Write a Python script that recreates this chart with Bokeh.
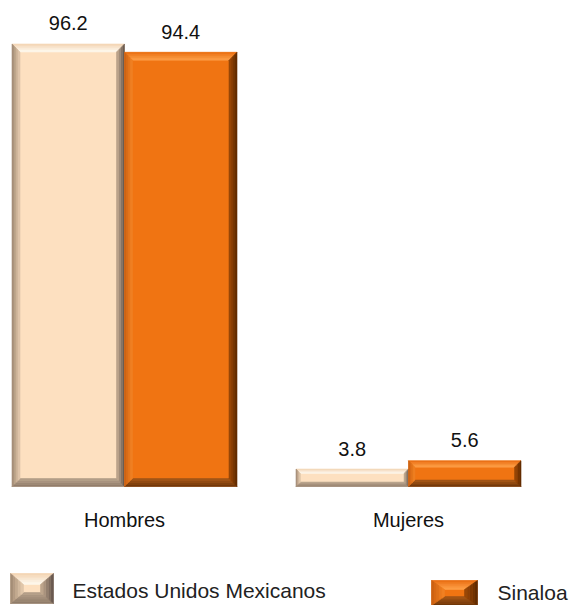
from bokeh.plotting import figure
from bokeh.models import Range1d
from bokeh.core.properties import value
from bokeh.embed import file_html
from bokeh.resources import INLINE

categories = ["Hombres", "Mujeres"]
series_names = ["Estados Unidos Mexicanos", "Sinaloa"]
eum_values = [96.2, 3.8]
sinaloa_values = [94.4, 5.6]
value_labels_eum = ["96.2", "3.8"]
value_labels_sin = ["94.4", "5.6"]

W, H = 572, 605
SCALE = 4.6          # px per unit
BASE_PX = 486        # baseline from top of frame
Y_TOP = BASE_PX / SCALE
Y_BOT = -(H - BASE_PX) / SCALE

p = figure(width=W, height=H, output_backend="svg", toolbar_location=None,
           x_range=Range1d(0, W), y_range=Range1d(Y_BOT, Y_TOP),
           min_border=0, background_fill_color="white", border_fill_color="white",
           outline_line_color=None)
p.axis.visible = False
p.grid.visible = False

def px2v(px):
    return px / SCALE

def hex2rgb(h):
    h = h.lstrip("#")
    return tuple(int(h[i:i + 2], 16) for i in (0, 2, 4))

def mix(c1, c2, t):
    a, b = hex2rgb(c1), hex2rgb(c2)
    return "#%02x%02x%02x" % tuple(int(round(a[i] + (b[i] - a[i]) * t)) for i in range(3))

STYLES = {
    "eum": dict(face="#fde0c0",
                top=("#f2d2b0", "#fffaf0"), bottom=("#8c7866", "#b8a28c"),
                left=("#9c8670", "#e8cdb0"), right=("#5e5048", "#c8ae94")),
    "sin": dict(face="#f07412",
                top=("#e86c10", "#ffa24a"), bottom=("#6a3408", "#a85818"),
                left=("#c85e10", "#f58424"), right=("#5a2800", "#a04a08")),
}

def bevel_box(x0, x1, y0, y1, style, bx, by, n=4):
    st = STYLES[style]
    p.quad(left=[x0], right=[x1], bottom=[y0], top=[y1],
           fill_color=st["face"], line_color=None)
    xs_all, ys_all, cols = [], [], []
    for k in range(n):
        o, i = k / n, (k + 1) / n
        t = (k + 0.5) / n
        ox0, ox1 = x0 + bx * o, x1 - bx * o
        ix0, ix1 = x0 + bx * i, x1 - bx * i
        oy0, oy1 = y0 + by * o, y1 - by * o
        iy0, iy1 = y0 + by * i, y1 - by * i
        xs_all.append([ox0, ox1, ix1, ix0]); ys_all.append([oy1, oy1, iy1, iy1])
        cols.append(mix(*st["top"], t))
        xs_all.append([ox0, ox1, ix1, ix0]); ys_all.append([oy0, oy0, iy0, iy0])
        cols.append(mix(*st["bottom"], t))
        xs_all.append([ox0, ox0, ix0, ix0]); ys_all.append([oy0, oy1, iy1, iy0])
        cols.append(mix(*st["left"], t))
        xs_all.append([ox1, ox1, ix1, ix1]); ys_all.append([oy0, oy1, iy1, iy0])
        cols.append(mix(*st["right"], t))
    p.patches(xs=xs_all, ys=ys_all, fill_color=cols, line_color=cols, line_width=0.6)

GROUP0 = 124
GROUP_STEP = 284
BAR_W = 112.5
FONT = value("Liberation Sans")
FS = "20px"
FS_LEG = "21px"

for gi, cat in enumerate(categories):
    gc = GROUP0 + GROUP_STEP * gi
    for si, (vals, labs, style) in enumerate([(eum_values, value_labels_eum, "eum"),
                                              (sinaloa_values, value_labels_sin, "sin")]):
        x0 = gc - BAR_W + si * BAR_W
        x1 = x0 + BAR_W
        v = vals[gi]
        hpx = v * SCALE
        b = min(8.0, hpx * 0.25)
        bevel_box(x0, x1, 0, v, style, b, px2v(b))
        p.text(x=[(x0 + x1) / 2], y=[v + px2v(20.5)], text=[labs[gi]],
               text_font=FONT, text_font_size=FS, text_color="#111111",
               text_align="center", text_baseline="middle")
    p.text(x=[gc], y=[-px2v(33)], text=[cat], text_font=FONT, text_font_size=FS,
           text_color="#111111", text_align="center", text_baseline="middle")

# legend
bevel_box(10, 53, -px2v(117), -px2v(87), "eum", 13, px2v(11), n=5)
p.text(x=[72], y=[-px2v(104)], text=[series_names[0]], text_font=FONT,
       text_font_size=FS_LEG, text_color="#222222", text_align="left",
       text_baseline="middle")
bevel_box(431, 477, -px2v(119), -px2v(94), "sin", 13, px2v(9), n=5)
p.text(x=[497], y=[-px2v(106)], text=[series_names[1]], text_font=FONT,
       text_font_size=FS_LEG, text_color="#222222", text_align="left",
       text_baseline="middle")

open("out.html", "w").write(file_html(p, INLINE))
